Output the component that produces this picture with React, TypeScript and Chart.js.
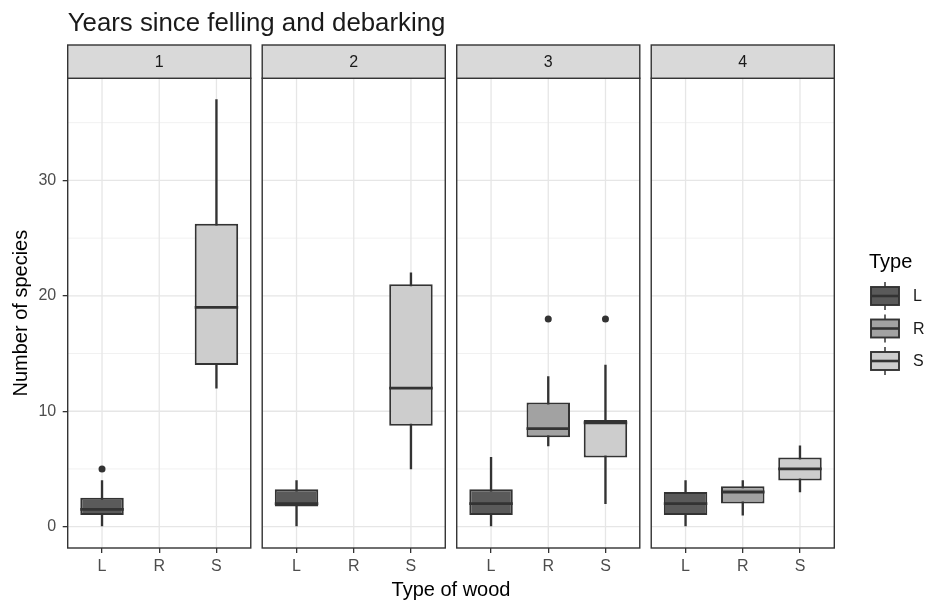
import React, { useEffect, useRef } from 'react';
import { Chart, registerables } from 'chart.js';

Chart.register(...registerables);

// ---------- data ----------
const facets = ['1', '2', '3', '4'];
const woodTypes = ['L', 'R', 'S'];
const yTickValues = [0, 10, 20, 30];
const typeFills = ['#5a5a5a', '#a2a2a2', '#cdcdcd'];

// per facet (null = no observations)
const lowL = [0, 0, 0, 0];
const q1L = [1, 1.75, 1, 1];
const medL = [1.5, 2, 2, 2];
const q3L = [2.5, 3.25, 3.25, 3];
const highL = [4, 4, 6, 4];
const outL = [[5], [], [], []];

const lowR = [null, null, 7, 1];
const q1R = [null, null, 7.75, 2];
const medR = [null, null, 8.5, 3];
const q3R = [null, null, 10.75, 3.5];
const highR = [null, null, 13, 4];
const outR = [[], [], [18], []];

const lowS = [12, 5, 2, 3];
const q1S = [14, 8.75, 6, 4];
const medS = [19, 12, 9, 5];
const q3S = [26.25, 21, 9.25, 6];
const highS = [37, 22, 14, 7];
const outS = [[], [], [18], []];

const stats = [
  { low: lowL, q1: q1L, med: medL, q3: q3L, high: highL, out: outL },
  { low: lowR, q1: q1R, med: medR, q3: q3R, high: highR, out: outR },
  { low: lowS, q1: q1S, med: medS, q3: q3S, high: highS, out: outS },
];

// ---------- layout ----------
const W = 927;
const H = 604;
const PLOT_LEFT = 67.7;
const PLOT_RIGHT = 834.3;
const PLOT_BOTTOM = 548;
const STRIP_TOP = 45;
const PANEL_STEP = 3.4;
const EXPAND = 0.6;
const X_MIN = 1 - EXPAND;
const PANEL_SPAN = woodTypes.length - 1 + 2 * EXPAND;
const X_MAX = X_MIN + PANEL_STEP * (facets.length - 1) + PANEL_SPAN;
const Y_MIN = -1.85;
const Y_MAX = 38.85;
const FONT = "'Liberation Sans', Arial, sans-serif";
const DARK = '#333333';

const xPos = (k: number, ci: number) => 1 + ci + PANEL_STEP * k;

function drawKey(ctx: CanvasRenderingContext2D, cx: number, cy: number, fill: string) {
  ctx.save();
  ctx.strokeStyle = DARK;
  ctx.lineWidth = 1.5;
  ctx.beginPath();
  ctx.moveTo(cx, cy - 14);
  ctx.lineTo(cx, cy + 14);
  ctx.stroke();
  ctx.fillStyle = fill;
  ctx.fillRect(cx - 14, cy - 9, 28, 18);
  ctx.lineWidth = 1.9;
  ctx.strokeRect(cx - 14, cy - 9, 28, 18);
  ctx.lineWidth = 2.6;
  ctx.beginPath();
  ctx.moveTo(cx - 14, cy);
  ctx.lineTo(cx + 14, cy);
  ctx.stroke();
  ctx.restore();
}

const facetPlugin = {
  id: 'facetDecor',
  beforeDatasetsDraw(chart: any) {
    const { ctx, chartArea, scales } = chart;
    const x = scales.x;
    const y = scales.y;
    const majors: number[] = y.ticks.map((t: any) => t.value);
    const step = majors.length > 1 ? majors[1] - majors[0] : 10;
    const minors: number[] = [majors[0] - step / 2, ...majors.map((v) => v + step / 2)].filter(
      (v) => v > Y_MIN && v < Y_MAX
    );
    facets.forEach((_, k) => {
      const left = x.getPixelForValue(X_MIN + PANEL_STEP * k);
      const right = x.getPixelForValue(X_MIN + PANEL_STEP * k + PANEL_SPAN);
      ctx.save();
      ctx.fillStyle = '#ffffff';
      ctx.fillRect(left, chartArea.top, right - left, chartArea.bottom - chartArea.top);
      ctx.strokeStyle = '#f1f1f1';
      ctx.lineWidth = 1;
      minors.forEach((v) => {
        const py = y.getPixelForValue(v);
        ctx.beginPath();
        ctx.moveTo(left, py);
        ctx.lineTo(right, py);
        ctx.stroke();
      });
      ctx.strokeStyle = '#e6e6e6';
      ctx.lineWidth = 1.3;
      majors.forEach((v) => {
        const py = y.getPixelForValue(v);
        ctx.beginPath();
        ctx.moveTo(left, py);
        ctx.lineTo(right, py);
        ctx.stroke();
      });
      woodTypes.forEach((_, ci) => {
        const px = x.getPixelForValue(xPos(k, ci));
        ctx.beginPath();
        ctx.moveTo(px, chartArea.top);
        ctx.lineTo(px, chartArea.bottom);
        ctx.stroke();
      });
      ctx.restore();
    });
  },
  afterDatasetsDraw(chart: any) {
    const { ctx, chartArea, scales } = chart;
    const x = scales.x;
    const y = scales.y;
    // medians
    chart.data.datasets.forEach((ds: any, i: number) => {
      if (ds.role !== 'box') return;
      const meta = chart.getDatasetMeta(i);
      meta.data.forEach((bar: any, j: number) => {
        const m = ds.data[j].median;
        const py = y.getPixelForValue(m);
        ctx.save();
        ctx.strokeStyle = DARK;
        ctx.lineWidth = 2.8;
        ctx.beginPath();
        ctx.moveTo(bar.x - bar.width / 2, py);
        ctx.lineTo(bar.x + bar.width / 2, py);
        ctx.stroke();
        ctx.restore();
      });
    });
    // panel borders and strips
    facets.forEach((f, k) => {
      const left = x.getPixelForValue(X_MIN + PANEL_STEP * k);
      const right = x.getPixelForValue(X_MIN + PANEL_STEP * k + PANEL_SPAN);
      ctx.save();
      ctx.strokeStyle = DARK;
      ctx.lineWidth = 1.4;
      ctx.strokeRect(left, chartArea.top, right - left, chartArea.bottom - chartArea.top);
      ctx.fillStyle = '#d9d9d9';
      ctx.fillRect(left, STRIP_TOP, right - left, chartArea.top - STRIP_TOP);
      ctx.strokeRect(left, STRIP_TOP, right - left, chartArea.top - STRIP_TOP);
      ctx.fillStyle = '#1a1a1a';
      ctx.font = `16px ${FONT}`;
      ctx.textAlign = 'center';
      ctx.textBaseline = 'middle';
      ctx.fillText(f, (left + right) / 2, (STRIP_TOP + chartArea.top) / 2 + 0.5);
      ctx.restore();
    });
    // legend
    ctx.save();
    ctx.fillStyle = '#000';
    ctx.font = `20px ${FONT}`;
    ctx.textAlign = 'left';
    ctx.textBaseline = 'alphabetic';
    ctx.fillText('Type', 869, 268);
    ctx.font = `16px ${FONT}`;
    ctx.textBaseline = 'middle';
    woodTypes.forEach((t, ti) => {
      const cy = 296 + ti * 32.5;
      drawKey(ctx, 885, cy, typeFills[ti]);
      ctx.fillStyle = '#1a1a1a';
      ctx.fillText(t, 913, cy + 1);
    });
    ctx.restore();
  },
};

function buildDatasets() {
  const sets: any[] = [];
  woodTypes.forEach((t, ti) => {
    const s = stats[ti];
    const whiskers: any[] = [];
    const boxes: any[] = [];
    const outliers: any[] = [];
    facets.forEach((_, k) => {
      if (s.low[k] == null) return;
      const xv = xPos(k, ti);
      whiskers.push({ x: xv, y: [s.low[k], s.high[k]] });
      boxes.push({ x: xv, y: [s.q1[k], s.q3[k]], median: s.med[k] });
      s.out[k].forEach((v: number) => outliers.push({ x: xv, y: v }));
    });
    sets.push({
      type: 'bar',
      label: `${t} whiskers`,
      role: 'whisker',
      data: whiskers,
      backgroundColor: DARK,
      barThickness: 1.7,
      grouped: false,
      order: 3,
    });
    sets.push({
      type: 'bar',
      label: t,
      role: 'box',
      data: boxes,
      backgroundColor: typeFills[ti],
      borderColor: DARK,
      borderWidth: 2,
      borderSkipped: false,
      barPercentage: 0.76,
      categoryPercentage: 1,
      grouped: false,
      order: 2,
    });
    sets.push({
      type: 'scatter',
      label: `${t} outliers`,
      role: 'outlier',
      data: outliers,
      pointRadius: 3.5,
      backgroundColor: DARK,
      borderWidth: 0,
      order: 1,
    });
  });
  return sets;
}

export default function App() {
  const canvasRef = useRef<HTMLCanvasElement | null>(null);

  useEffect(() => {
    if (!canvasRef.current) return;
    Chart.defaults.font.family = FONT;
    const chart = new Chart(canvasRef.current, {
      type: 'bar',
      data: { datasets: buildDatasets() as any },
      plugins: [facetPlugin as any],
      options: {
        animation: false,
        responsive: false,
        devicePixelRatio: 1,
        layout: { padding: { left: 0, right: W - PLOT_RIGHT, top: 0, bottom: 0 } },
        plugins: {
          legend: { display: false },
          tooltip: { enabled: false },
          title: {
            display: true,
            text: 'Years since felling and debarking',
            align: 'start',
            fullSize: false,
            color: '#1a1a1a',
            font: { size: 25.8, weight: 'normal', family: FONT },
            padding: { top: 8.4, bottom: 38.9 },
          },
        },
        scales: {
          x: {
            type: 'linear',
            min: X_MIN,
            max: X_MAX,
            offset: false,
            afterFit: (s: any) => {
              s.height = H - PLOT_BOTTOM;
            },
            afterBuildTicks: (s: any) => {
              s.ticks = facets.flatMap((_, k) => woodTypes.map((__, ci) => ({ value: xPos(k, ci) })));
            },
            ticks: {
              autoSkip: false,
              maxRotation: 0,
              minRotation: 0,
              padding: 4.4,
              color: '#4d4d4d',
              font: { size: 16, family: FONT },
              callback: (_v: any, i: number) => woodTypes[i % woodTypes.length],
            },
            grid: {
              display: true,
              offset: false,
              drawOnChartArea: false,
              drawTicks: true,
              tickLength: 5,
              color: DARK,
              lineWidth: 1.3,
            },
            border: { display: false },
            title: {
              display: true,
              text: 'Type of wood',
              color: '#000',
              font: { size: 20, family: FONT },
              padding: { top: 0, bottom: 1.5 },
            },
          },
          y: {
            type: 'linear',
            min: Y_MIN,
            max: Y_MAX,
            afterFit: (s: any) => {
              s.width = PLOT_LEFT;
            },
            afterBuildTicks: (s: any) => {
              s.ticks = yTickValues.map((v) => ({ value: v }));
            },
            ticks: {
              padding: 6.5,
              color: '#4d4d4d',
              font: { size: 16, family: FONT },
            },
            grid: { display: true, drawOnChartArea: false, drawTicks: true, tickLength: 5, color: DARK, lineWidth: 1.3 },
            border: { display: false },
            title: {
              display: true,
              text: 'Number of species',
              color: '#000',
              font: { size: 20, family: FONT },
              padding: { top: 9, bottom: 0 },
            },
          },
        },
      },
    });
    return () => chart.destroy();
  }, []);

  return (
    <div style={{ position: 'fixed', left: 0, top: 0, width: W, height: H, background: '#fff' }}>
      <canvas ref={canvasRef} width={W} height={H} style={{ display: 'block', width: W, height: H }} />
    </div>
  );
}
